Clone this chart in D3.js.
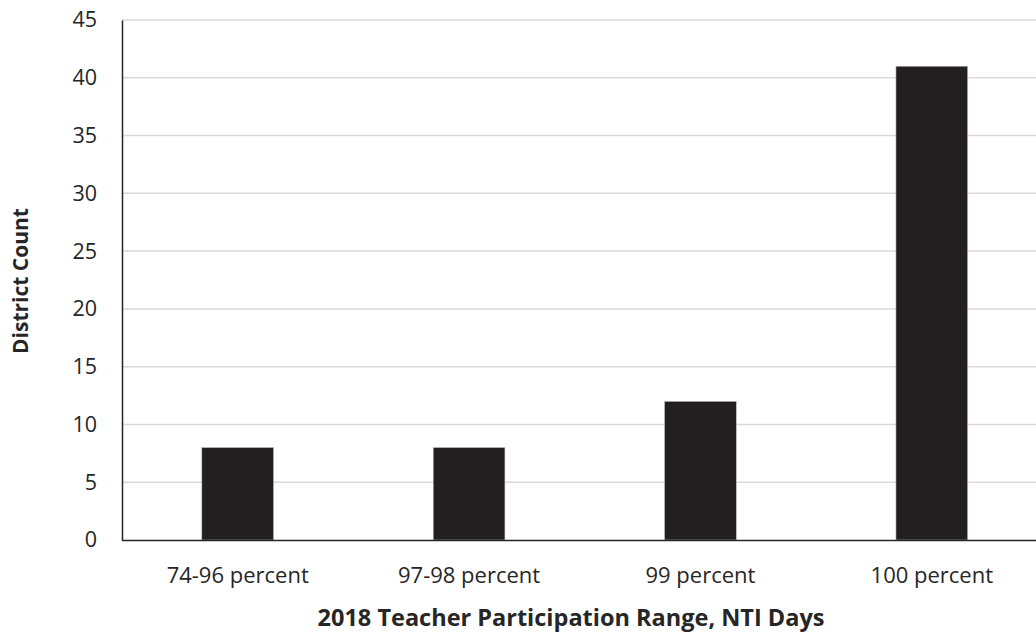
<!DOCTYPE html>
<html><head><meta charset="utf-8">
<script src="https://cdn.jsdelivr.net/npm/d3@7"></script>
<style>body{margin:0;background:#fff;} svg{display:block;font-family:"Open Sans",sans-serif;}</style>
</head><body><svg id="c" width="1036" height="635"></svg>
<script>
const categories = ["74-96 percent","97-98 percent","99 percent","100 percent"];
const values = [8, 8, 12, 41];
const yTicks = [0,5,10,15,20,25,30,35,40,45];

(function(){
const svg = d3.select("#c");
const mLeft = 122, mRight = 1047.5, mTop = 20, mBottom = 540;
const x = d3.scaleBand().domain(categories).range([mLeft, mRight]).paddingInner(0.69).paddingOuter(0.345);
const y = d3.scaleLinear().domain([0,45]).range([mBottom, mTop]);

svg.append("g").selectAll("line").data(yTicks.filter(d=>d>0)).join("line")
  .attr("x1", mLeft).attr("x2", 1036).attr("y1", d=>y(d)).attr("y2", d=>y(d))
  .attr("stroke", "#d9d9d9").attr("stroke-width", 1.5);

svg.append("g").selectAll("rect").data(values).join("rect")
  .attr("x", (d,i)=>x(categories[i])).attr("width", x.bandwidth())
  .attr("y", d=>y(d)).attr("height", d=>y(0)-y(d))
  .attr("fill", "#231f20").attr("stroke", "#bfbfbf").attr("stroke-width", 0.6);

const yAxis = svg.append("g").attr("transform", `translate(${mLeft},0)`)
  .call(d3.axisLeft(y).tickValues(yTicks).tickSize(0).tickPadding(25));
yAxis.select(".domain").attr("stroke", "#262626").attr("stroke-width", 1.5);
yAxis.selectAll("text").attr("font-size", 21.5).attr("fill", "#262626").attr("font-family", '"Open Sans",sans-serif');

const xAxis = svg.append("g").attr("transform", `translate(0,${mBottom})`)
  .call(d3.axisBottom(x).tickSize(0).tickPadding(27));
xAxis.select(".domain").attr("d", `M${mLeft},0.5H1036`).attr("stroke", "#262626").attr("stroke-width", 1.5);
xAxis.selectAll("text").attr("font-size", 22).attr("fill", "#262626").attr("font-family", '"Open Sans",sans-serif');

svg.append("text").attr("x", 571).attr("y", 626).attr("text-anchor", "middle")
  .attr("font-size", 23.5).attr("font-weight", "bold").attr("fill", "#262626")
  .text("2018 Teacher Participation Range, NTI Days");
svg.append("text").attr("transform", "translate(28,281) rotate(-90)").attr("text-anchor", "middle")
  .attr("font-size", 21).attr("font-weight", "bold").attr("fill", "#262626")
  .text("District Count");
})();
</script></body></html>
